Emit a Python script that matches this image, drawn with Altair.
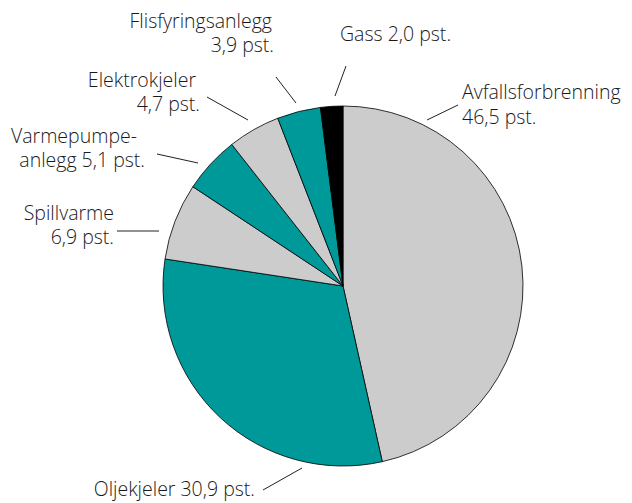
import altair as alt
import pandas as pd

# Data
categories = ["Avfallsforbrenning", "Oljekjeler", "Spillvarme", "Varmepumpeanlegg",
              "Elektrokjeler", "Flisfyringsanlegg", "Gass"]
values = [46.5, 30.9, 6.9, 5.1, 4.7, 3.9, 2.0]
colors = ["#cccccc", "#009999", "#cccccc", "#009999", "#cccccc", "#009999", "#000000"]

# Label text lines (annotation)
label_text = ["Avfallsforbrenning", "46,5 pst.", "Gass 2,0 pst.", "Flisfyringsanlegg", "3,9 pst.",
              "Elektrokjeler", "4,7 pst.", "Varmepumpe-", "anlegg 5,1 pst.",
              "Spillvarme", "6,9 pst.", "Oljekjeler 30,9 pst."]
# Layout of labels (page pixel coordinates)
label_x = [462, 462, 340, 272, 274, 196, 200, 137, 145, 114, 114, 255]
label_y = [93, 118, 35, 22, 46, 81, 105, 137, 161, 214, 238, 490]
label_align = ["left", "left", "left", "right", "right", "right", "right",
               "right", "right", "right", "right", "right"]

# Leader lines layout (page pixel coordinates)
line_x1 = [427, 335, 296, 248, 198, 159, 302]
line_y1 = [120, 96, 103, 120, 163, 231, 468]
line_x2 = [458, 346, 276, 207, 157, 117, 263]
line_y2 = [105, 66, 77, 97, 154, 231, 490]

W, H = 616, 495

pie_df = pd.DataFrame({"cat": categories, "value": values, "order": list(range(len(values)))})
lab_df = pd.DataFrame({"t": label_text, "x": label_x, "y": label_y, "a": label_align})
line_df = pd.DataFrame({"x1": line_x1, "y1": line_y1, "x2": line_x2, "y2": line_y2})

xs = alt.Scale(domain=[8, 8 + W])
ys = alt.Scale(domain=[8, 8 + H], reverse=True)

pie = alt.Chart(pie_df).mark_arc(radius=180, stroke="#000000", strokeWidth=0.8).encode(
    theta=alt.Theta("value:Q", stack=True),
    order=alt.Order("order:Q"),
    color=alt.Color("cat:N", scale=alt.Scale(domain=categories, range=colors), legend=None),
    x=alt.value(343 - 8),
    y=alt.value(286 - 8),
)

lines = alt.Chart(line_df).mark_rule(color="#222222", strokeWidth=1).encode(
    x=alt.X("x1:Q", scale=xs, axis=None),
    y=alt.Y("y1:Q", scale=ys, axis=None),
    x2="x2:Q",
    y2="y2:Q",
)

def text_layer(align):
    return alt.Chart(lab_df[lab_df["a"] == align]).mark_text(
        align=align, baseline="middle", font="Open Sans", fontSize=19.5, fontWeight=300,
        color="#1a1a1a"
    ).encode(
        x=alt.X("x:Q", scale=xs, axis=None),
        y=alt.Y("y:Q", scale=ys, axis=None),
        text="t:N",
    )

chart = alt.layer(pie, lines, text_layer("left"), text_layer("right")).properties(
    width=W, height=H, padding=0, autosize=alt.AutoSizeParams(type="none")
).configure_view(stroke=None)

chart.save("out.html", embed_options={"renderer": "svg", "actions": False})
